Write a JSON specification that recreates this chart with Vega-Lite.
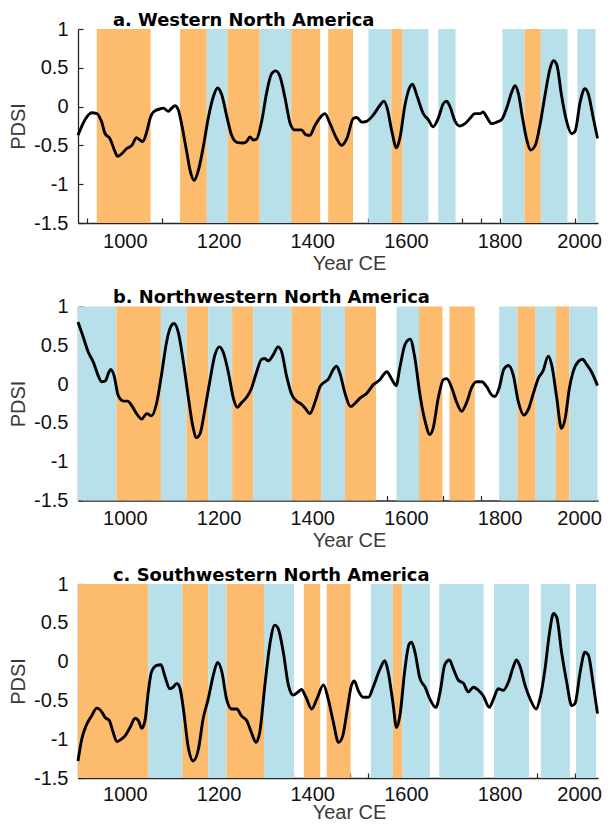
{
  "$schema": "https://vega.github.io/schema/vega-lite/v6.json",
  "background": "white",
  "padding": {"left": 8, "top": 11, "right": 5, "bottom": 0},
  "datasets": {
    "a_bands": [
      {"start": 940, "end": 1055, "regime": "dry"},
      {"start": 1118, "end": 1175, "regime": "dry"},
      {"start": 1175, "end": 1219, "regime": "wet"},
      {"start": 1219, "end": 1288, "regime": "dry"},
      {"start": 1288, "end": 1355, "regime": "wet"},
      {"start": 1355, "end": 1417, "regime": "dry"},
      {"start": 1434, "end": 1487, "regime": "dry"},
      {"start": 1520, "end": 1569, "regime": "wet"},
      {"start": 1569, "end": 1593, "regime": "dry"},
      {"start": 1593, "end": 1648, "regime": "wet"},
      {"start": 1669, "end": 1706, "regime": "wet"},
      {"start": 1806, "end": 1853, "regime": "wet"},
      {"start": 1853, "end": 1888, "regime": "dry"},
      {"start": 1888, "end": 1945, "regime": "wet"},
      {"start": 1966, "end": 2005, "regime": "wet"}
    ],
    "b_bands": [
      {"start": 900, "end": 982, "regime": "wet"},
      {"start": 982, "end": 1077, "regime": "dry"},
      {"start": 1077, "end": 1132, "regime": "wet"},
      {"start": 1132, "end": 1178, "regime": "dry"},
      {"start": 1178, "end": 1229, "regime": "wet"},
      {"start": 1229, "end": 1274, "regime": "dry"},
      {"start": 1274, "end": 1356, "regime": "wet"},
      {"start": 1356, "end": 1419, "regime": "dry"},
      {"start": 1419, "end": 1470, "regime": "wet"},
      {"start": 1470, "end": 1536, "regime": "dry"},
      {"start": 1580, "end": 1628, "regime": "wet"},
      {"start": 1628, "end": 1678, "regime": "dry"},
      {"start": 1693, "end": 1747, "regime": "dry"},
      {"start": 1799, "end": 1838, "regime": "wet"},
      {"start": 1838, "end": 1877, "regime": "dry"},
      {"start": 1877, "end": 1920, "regime": "wet"},
      {"start": 1920, "end": 1949, "regime": "dry"},
      {"start": 1949, "end": 2009, "regime": "wet"}
    ],
    "c_bands": [
      {"start": 900, "end": 1050, "regime": "dry"},
      {"start": 1050, "end": 1123, "regime": "wet"},
      {"start": 1123, "end": 1178, "regime": "dry"},
      {"start": 1178, "end": 1217, "regime": "wet"},
      {"start": 1217, "end": 1297, "regime": "dry"},
      {"start": 1297, "end": 1361, "regime": "wet"},
      {"start": 1382, "end": 1417, "regime": "dry"},
      {"start": 1431, "end": 1482, "regime": "dry"},
      {"start": 1525, "end": 1572, "regime": "wet"},
      {"start": 1572, "end": 1592, "regime": "dry"},
      {"start": 1592, "end": 1651, "regime": "wet"},
      {"start": 1671, "end": 1766, "regime": "wet"},
      {"start": 1788, "end": 1863, "regime": "wet"},
      {"start": 1888, "end": 1950, "regime": "wet"},
      {"start": 1963, "end": 2006, "regime": "wet"}
    ],
    "a_curve": [
      {"year": 900, "pdsi": -0.37}, {"year": 915, "pdsi": -0.17}, {"year": 929, "pdsi": -0.08}, {"year": 940, "pdsi": -0.09},
      {"year": 950, "pdsi": -0.19}, {"year": 958, "pdsi": -0.35}, {"year": 968, "pdsi": -0.41}, {"year": 979, "pdsi": -0.58},
      {"year": 984, "pdsi": -0.64}, {"year": 993, "pdsi": -0.61}, {"year": 1004, "pdsi": -0.54}, {"year": 1015, "pdsi": -0.5},
      {"year": 1025, "pdsi": -0.4}, {"year": 1032, "pdsi": -0.43}, {"year": 1038, "pdsi": -0.45}, {"year": 1047, "pdsi": -0.32},
      {"year": 1054, "pdsi": -0.15}, {"year": 1061, "pdsi": -0.07}, {"year": 1075, "pdsi": -0.03}, {"year": 1082, "pdsi": -0.02},
      {"year": 1093, "pdsi": -0.06}, {"year": 1100, "pdsi": -0.02}, {"year": 1107, "pdsi": 0.01}, {"year": 1114, "pdsi": -0.04},
      {"year": 1121, "pdsi": -0.22}, {"year": 1132, "pdsi": -0.58}, {"year": 1140, "pdsi": -0.84}, {"year": 1148, "pdsi": -0.95},
      {"year": 1157, "pdsi": -0.82}, {"year": 1168, "pdsi": -0.5}, {"year": 1178, "pdsi": -0.15}, {"year": 1189, "pdsi": 0.13},
      {"year": 1198, "pdsi": 0.24}, {"year": 1207, "pdsi": 0.15}, {"year": 1217, "pdsi": -0.11}, {"year": 1228, "pdsi": -0.37},
      {"year": 1239, "pdsi": -0.46}, {"year": 1253, "pdsi": -0.47}, {"year": 1260, "pdsi": -0.45}, {"year": 1267, "pdsi": -0.39},
      {"year": 1274, "pdsi": -0.43}, {"year": 1281, "pdsi": -0.42}, {"year": 1292, "pdsi": -0.19}, {"year": 1303, "pdsi": 0.19},
      {"year": 1313, "pdsi": 0.42}, {"year": 1322, "pdsi": 0.46}, {"year": 1331, "pdsi": 0.39}, {"year": 1342, "pdsi": 0.11},
      {"year": 1353, "pdsi": -0.22}, {"year": 1363, "pdsi": -0.3}, {"year": 1377, "pdsi": -0.3}, {"year": 1386, "pdsi": -0.36},
      {"year": 1395, "pdsi": -0.37}, {"year": 1406, "pdsi": -0.24}, {"year": 1417, "pdsi": -0.14}, {"year": 1427, "pdsi": -0.09},
      {"year": 1438, "pdsi": -0.22}, {"year": 1452, "pdsi": -0.41}, {"year": 1463, "pdsi": -0.5}, {"year": 1474, "pdsi": -0.41},
      {"year": 1488, "pdsi": -0.15}, {"year": 1495, "pdsi": -0.14}, {"year": 1506, "pdsi": -0.2}, {"year": 1516, "pdsi": -0.19},
      {"year": 1530, "pdsi": -0.11}, {"year": 1545, "pdsi": 0.02}, {"year": 1553, "pdsi": 0.07}, {"year": 1560, "pdsi": -0.02},
      {"year": 1570, "pdsi": -0.32}, {"year": 1580, "pdsi": -0.53}, {"year": 1587, "pdsi": -0.41}, {"year": 1598, "pdsi": 0.02},
      {"year": 1609, "pdsi": 0.26}, {"year": 1614, "pdsi": 0.29}, {"year": 1623, "pdsi": 0.15}, {"year": 1637, "pdsi": -0.09},
      {"year": 1648, "pdsi": -0.17}, {"year": 1658, "pdsi": -0.26}, {"year": 1669, "pdsi": -0.15}, {"year": 1680, "pdsi": 0.04},
      {"year": 1687, "pdsi": 0.07}, {"year": 1694, "pdsi": 0.0}, {"year": 1705, "pdsi": -0.19}, {"year": 1715, "pdsi": -0.25},
      {"year": 1726, "pdsi": -0.22}, {"year": 1737, "pdsi": -0.15}, {"year": 1747, "pdsi": -0.09}, {"year": 1758, "pdsi": -0.09},
      {"year": 1765, "pdsi": -0.07}, {"year": 1772, "pdsi": -0.13}, {"year": 1783, "pdsi": -0.22}, {"year": 1794, "pdsi": -0.2},
      {"year": 1804, "pdsi": -0.17}, {"year": 1815, "pdsi": -0.02}, {"year": 1826, "pdsi": 0.19}, {"year": 1833, "pdsi": 0.27},
      {"year": 1840, "pdsi": 0.17}, {"year": 1849, "pdsi": -0.15}, {"year": 1858, "pdsi": -0.43}, {"year": 1866, "pdsi": -0.56},
      {"year": 1876, "pdsi": -0.5}, {"year": 1886, "pdsi": -0.24}, {"year": 1897, "pdsi": 0.15}, {"year": 1908, "pdsi": 0.5},
      {"year": 1915, "pdsi": 0.59}, {"year": 1922, "pdsi": 0.54}, {"year": 1932, "pdsi": 0.15}, {"year": 1943, "pdsi": -0.19},
      {"year": 1954, "pdsi": -0.35}, {"year": 1961, "pdsi": -0.32}, {"year": 1972, "pdsi": 0.06}, {"year": 1982, "pdsi": 0.23},
      {"year": 1989, "pdsi": 0.17}, {"year": 2000, "pdsi": -0.15}, {"year": 2009, "pdsi": -0.41}
    ],
    "b_curve": [
      {"year": 900, "pdsi": 0.8}, {"year": 911, "pdsi": 0.61}, {"year": 922, "pdsi": 0.41}, {"year": 933, "pdsi": 0.28},
      {"year": 943, "pdsi": 0.11}, {"year": 950, "pdsi": 0.03}, {"year": 958, "pdsi": 0.04}, {"year": 965, "pdsi": 0.14},
      {"year": 970, "pdsi": 0.19}, {"year": 977, "pdsi": 0.11}, {"year": 986, "pdsi": -0.15}, {"year": 997, "pdsi": -0.22},
      {"year": 1006, "pdsi": -0.22}, {"year": 1015, "pdsi": -0.28}, {"year": 1025, "pdsi": -0.38}, {"year": 1036, "pdsi": -0.45},
      {"year": 1047, "pdsi": -0.38}, {"year": 1057, "pdsi": -0.41}, {"year": 1068, "pdsi": -0.24}, {"year": 1079, "pdsi": 0.15},
      {"year": 1089, "pdsi": 0.54}, {"year": 1098, "pdsi": 0.74}, {"year": 1105, "pdsi": 0.78}, {"year": 1114, "pdsi": 0.67},
      {"year": 1125, "pdsi": 0.28}, {"year": 1136, "pdsi": -0.19}, {"year": 1145, "pdsi": -0.54}, {"year": 1153, "pdsi": -0.69},
      {"year": 1161, "pdsi": -0.63}, {"year": 1171, "pdsi": -0.32}, {"year": 1182, "pdsi": 0.06}, {"year": 1192, "pdsi": 0.37},
      {"year": 1202, "pdsi": 0.48}, {"year": 1210, "pdsi": 0.41}, {"year": 1221, "pdsi": 0.15}, {"year": 1232, "pdsi": -0.19},
      {"year": 1240, "pdsi": -0.3}, {"year": 1249, "pdsi": -0.24}, {"year": 1260, "pdsi": -0.17}, {"year": 1270, "pdsi": -0.06},
      {"year": 1281, "pdsi": 0.15}, {"year": 1292, "pdsi": 0.32}, {"year": 1299, "pdsi": 0.33}, {"year": 1306, "pdsi": 0.3},
      {"year": 1317, "pdsi": 0.38}, {"year": 1327, "pdsi": 0.48}, {"year": 1334, "pdsi": 0.43}, {"year": 1345, "pdsi": 0.11},
      {"year": 1356, "pdsi": -0.13}, {"year": 1367, "pdsi": -0.22}, {"year": 1377, "pdsi": -0.26}, {"year": 1385, "pdsi": -0.31},
      {"year": 1395, "pdsi": -0.38}, {"year": 1406, "pdsi": -0.23}, {"year": 1417, "pdsi": -0.03}, {"year": 1427, "pdsi": 0.03},
      {"year": 1434, "pdsi": 0.06}, {"year": 1445, "pdsi": 0.19}, {"year": 1452, "pdsi": 0.23}, {"year": 1459, "pdsi": 0.14},
      {"year": 1470, "pdsi": -0.12}, {"year": 1482, "pdsi": -0.29}, {"year": 1491, "pdsi": -0.25}, {"year": 1502, "pdsi": -0.18},
      {"year": 1516, "pdsi": -0.12}, {"year": 1530, "pdsi": -0.01}, {"year": 1545, "pdsi": 0.06}, {"year": 1552, "pdsi": 0.12},
      {"year": 1559, "pdsi": 0.16}, {"year": 1570, "pdsi": 0.06}, {"year": 1579, "pdsi": -0.02}, {"year": 1587, "pdsi": 0.21},
      {"year": 1598, "pdsi": 0.51}, {"year": 1609, "pdsi": 0.58}, {"year": 1619, "pdsi": 0.34}, {"year": 1630, "pdsi": -0.14},
      {"year": 1641, "pdsi": -0.48}, {"year": 1651, "pdsi": -0.65}, {"year": 1658, "pdsi": -0.57}, {"year": 1669, "pdsi": -0.18},
      {"year": 1680, "pdsi": 0.06}, {"year": 1687, "pdsi": 0.07}, {"year": 1698, "pdsi": -0.05}, {"year": 1708, "pdsi": -0.23},
      {"year": 1719, "pdsi": -0.35}, {"year": 1730, "pdsi": -0.23}, {"year": 1740, "pdsi": -0.05}, {"year": 1751, "pdsi": 0.03},
      {"year": 1762, "pdsi": 0.03}, {"year": 1772, "pdsi": -0.03}, {"year": 1783, "pdsi": -0.14}, {"year": 1790, "pdsi": -0.16},
      {"year": 1799, "pdsi": -0.05}, {"year": 1809, "pdsi": 0.19}, {"year": 1819, "pdsi": 0.24}, {"year": 1829, "pdsi": 0.12},
      {"year": 1840, "pdsi": -0.23}, {"year": 1852, "pdsi": -0.4}, {"year": 1861, "pdsi": -0.33}, {"year": 1872, "pdsi": -0.12},
      {"year": 1883, "pdsi": 0.08}, {"year": 1892, "pdsi": 0.16}, {"year": 1904, "pdsi": 0.36}, {"year": 1911, "pdsi": 0.25},
      {"year": 1922, "pdsi": -0.18}, {"year": 1932, "pdsi": -0.57}, {"year": 1940, "pdsi": -0.44}, {"year": 1949, "pdsi": -0.05},
      {"year": 1957, "pdsi": 0.16}, {"year": 1968, "pdsi": 0.29}, {"year": 1977, "pdsi": 0.32}, {"year": 1986, "pdsi": 0.25},
      {"year": 1996, "pdsi": 0.16}, {"year": 2009, "pdsi": -0.02}
    ],
    "c_curve": [
      {"year": 900, "pdsi": -1.28}, {"year": 908, "pdsi": -1.0}, {"year": 917, "pdsi": -0.83}, {"year": 929, "pdsi": -0.7},
      {"year": 940, "pdsi": -0.6}, {"year": 951, "pdsi": -0.65}, {"year": 958, "pdsi": -0.72}, {"year": 967, "pdsi": -0.76},
      {"year": 975, "pdsi": -0.91}, {"year": 983, "pdsi": -1.03}, {"year": 990, "pdsi": -1.01}, {"year": 1000, "pdsi": -0.96},
      {"year": 1011, "pdsi": -0.85}, {"year": 1022, "pdsi": -0.73}, {"year": 1029, "pdsi": -0.76}, {"year": 1036, "pdsi": -0.86},
      {"year": 1043, "pdsi": -0.76}, {"year": 1050, "pdsi": -0.39}, {"year": 1057, "pdsi": -0.13}, {"year": 1068, "pdsi": -0.05},
      {"year": 1077, "pdsi": -0.04}, {"year": 1086, "pdsi": -0.2}, {"year": 1096, "pdsi": -0.35}, {"year": 1103, "pdsi": -0.33},
      {"year": 1111, "pdsi": -0.28}, {"year": 1118, "pdsi": -0.35}, {"year": 1125, "pdsi": -0.61}, {"year": 1135, "pdsi": -1.09},
      {"year": 1146, "pdsi": -1.28}, {"year": 1157, "pdsi": -1.13}, {"year": 1167, "pdsi": -0.74}, {"year": 1178, "pdsi": -0.48},
      {"year": 1189, "pdsi": -0.17}, {"year": 1198, "pdsi": -0.01}, {"year": 1207, "pdsi": -0.13}, {"year": 1217, "pdsi": -0.48},
      {"year": 1228, "pdsi": -0.61}, {"year": 1239, "pdsi": -0.61}, {"year": 1249, "pdsi": -0.7}, {"year": 1260, "pdsi": -0.76},
      {"year": 1270, "pdsi": -0.91}, {"year": 1280, "pdsi": -1.04}, {"year": 1288, "pdsi": -0.91}, {"year": 1299, "pdsi": -0.3},
      {"year": 1310, "pdsi": 0.24}, {"year": 1320, "pdsi": 0.47}, {"year": 1327, "pdsi": 0.43}, {"year": 1338, "pdsi": 0.13},
      {"year": 1349, "pdsi": -0.3}, {"year": 1359, "pdsi": -0.43}, {"year": 1370, "pdsi": -0.39}, {"year": 1377, "pdsi": -0.36},
      {"year": 1386, "pdsi": -0.45}, {"year": 1399, "pdsi": -0.61}, {"year": 1410, "pdsi": -0.48}, {"year": 1424, "pdsi": -0.3},
      {"year": 1434, "pdsi": -0.48}, {"year": 1445, "pdsi": -0.78}, {"year": 1456, "pdsi": -1.04}, {"year": 1465, "pdsi": -0.96},
      {"year": 1474, "pdsi": -0.65}, {"year": 1484, "pdsi": -0.3}, {"year": 1490, "pdsi": -0.25}, {"year": 1498, "pdsi": -0.37},
      {"year": 1509, "pdsi": -0.46}, {"year": 1520, "pdsi": -0.46}, {"year": 1530, "pdsi": -0.33}, {"year": 1545, "pdsi": -0.09},
      {"year": 1555, "pdsi": 0.01}, {"year": 1562, "pdsi": -0.13}, {"year": 1572, "pdsi": -0.52}, {"year": 1580, "pdsi": -0.85},
      {"year": 1587, "pdsi": -0.7}, {"year": 1598, "pdsi": -0.09}, {"year": 1607, "pdsi": 0.23}, {"year": 1612, "pdsi": 0.25},
      {"year": 1619, "pdsi": 0.13}, {"year": 1630, "pdsi": -0.22}, {"year": 1641, "pdsi": -0.33}, {"year": 1651, "pdsi": -0.48},
      {"year": 1664, "pdsi": -0.59}, {"year": 1673, "pdsi": -0.39}, {"year": 1683, "pdsi": -0.04}, {"year": 1693, "pdsi": 0.02},
      {"year": 1701, "pdsi": -0.09}, {"year": 1712, "pdsi": -0.24}, {"year": 1723, "pdsi": -0.28}, {"year": 1733, "pdsi": -0.39},
      {"year": 1744, "pdsi": -0.33}, {"year": 1755, "pdsi": -0.37}, {"year": 1765, "pdsi": -0.44}, {"year": 1778, "pdsi": -0.59},
      {"year": 1787, "pdsi": -0.48}, {"year": 1797, "pdsi": -0.35}, {"year": 1808, "pdsi": -0.37}, {"year": 1819, "pdsi": -0.26},
      {"year": 1829, "pdsi": -0.07}, {"year": 1836, "pdsi": 0.02}, {"year": 1844, "pdsi": -0.07}, {"year": 1854, "pdsi": -0.3},
      {"year": 1865, "pdsi": -0.48}, {"year": 1878, "pdsi": -0.61}, {"year": 1886, "pdsi": -0.48}, {"year": 1897, "pdsi": -0.09},
      {"year": 1906, "pdsi": 0.35}, {"year": 1915, "pdsi": 0.62}, {"year": 1922, "pdsi": 0.57}, {"year": 1932, "pdsi": 0.13},
      {"year": 1943, "pdsi": -0.26}, {"year": 1954, "pdsi": -0.57}, {"year": 1961, "pdsi": -0.54}, {"year": 1972, "pdsi": -0.13},
      {"year": 1982, "pdsi": 0.12}, {"year": 1989, "pdsi": 0.09}, {"year": 2000, "pdsi": -0.3}, {"year": 2009, "pdsi": -0.67}
    ]
  },
  "vconcat": [
    {
      "width": 520, "height": 194,
      "title": {"text": "a. Western North America", "anchor": "start", "frame": "group", "dx": 35, "offset": -10.5, "font": "DejaVu Sans", "fontSize": 17.9, "fontWeight": "bold", "color": "#000000"},
      "layer": [
        {"data": {"name": "a_bands"}, "mark": {"type": "rect"},
         "encoding": {
           "x": {"field": "start", "type": "quantitative", "scale": {"domain": [900, 2010], "nice": false, "zero": false},
                 "axis": {"title": "Year CE", "tickCount": 100, "labelOverlap": false, "values": [920,960,1000,1040,1080,1120,1160,1200,1240,1280,1320,1360,1400,1440,1480,1520,1560,1600,1640,1680,1720,1760,1800,1840,1880,1920,1960,2000], "labelExpr": "datum.value % 200 == 0 ? toString(datum.value) : ''"}},
           "x2": {"field": "end"},
           "color": {"field": "regime", "type": "nominal", "scale": {"domain": ["dry", "wet"], "range": ["#FDBB6E", "#B7E0EB"]}, "legend": null}}},
        {"mark": {"type": "rule", "strokeDash": [26.7, 16], "color": "#3a3a3a", "strokeWidth": 1.3},
         "encoding": {"y": {"datum": -0.18, "type": "quantitative", "scale": {"domain": [-1.5, 1], "nice": false, "zero": false},
                 "axis": {"title": "PDSI", "tickCount": 100, "labelOverlap": false, "values": [-1.5, -1, -0.5, 0, 0.5, 1], "labelExpr": "toString(datum.value)"}}}},
        {"data": {"name": "a_curve"}, "mark": {"type": "line", "color": "#000000", "strokeWidth": 2.9, "interpolate": "monotone"},
         "encoding": {
           "x": {"field": "year", "type": "quantitative"},
           "y": {"field": "pdsi", "type": "quantitative"}}}
      ]
    },
    {
      "width": 520, "height": 194,
      "title": {"text": "b. Northwestern North America", "anchor": "start", "frame": "group", "dx": 35, "offset": -10.5, "font": "DejaVu Sans", "fontSize": 17.9, "fontWeight": "bold", "color": "#000000"},
      "layer": [
        {"data": {"name": "b_bands"}, "mark": {"type": "rect"},
         "encoding": {
           "x": {"field": "start", "type": "quantitative", "scale": {"domain": [900, 2010], "nice": false, "zero": false},
                 "axis": {"title": "Year CE", "tickCount": 100, "labelOverlap": false, "values": [920,960,1000,1040,1080,1120,1160,1200,1240,1280,1320,1360,1400,1440,1480,1520,1560,1600,1640,1680,1720,1760,1800,1840,1880,1920,1960,2000], "labelExpr": "datum.value % 200 == 0 ? toString(datum.value) : ''"}},
           "x2": {"field": "end"},
           "color": {"field": "regime", "type": "nominal", "scale": {"domain": ["dry", "wet"], "range": ["#FDBB6E", "#B7E0EB"]}, "legend": null}}},
        {"mark": {"type": "rule", "strokeDash": [26.7, 16], "color": "#111111", "strokeWidth": 1.2},
         "encoding": {"y": {"datum": 0, "type": "quantitative", "scale": {"domain": [-1.5, 1], "nice": false, "zero": false},
                 "axis": {"title": "PDSI", "tickCount": 100, "labelOverlap": false, "values": [-1.5, -1, -0.5, 0, 0.5, 1], "labelExpr": "toString(datum.value)"}}}},
        {"data": {"name": "b_curve"}, "mark": {"type": "line", "color": "#000000", "strokeWidth": 2.9, "interpolate": "monotone"},
         "encoding": {
           "x": {"field": "year", "type": "quantitative"},
           "y": {"field": "pdsi", "type": "quantitative"}}}
      ]
    },
    {
      "width": 520, "height": 194,
      "title": {"text": "c. Southwestern North America", "anchor": "start", "frame": "group", "dx": 35, "offset": -10.5, "font": "DejaVu Sans", "fontSize": 17.9, "fontWeight": "bold", "color": "#000000"},
      "layer": [
        {"data": {"name": "c_bands"}, "mark": {"type": "rect"},
         "encoding": {
           "x": {"field": "start", "type": "quantitative", "scale": {"domain": [900, 2010], "nice": false, "zero": false},
                 "axis": {"title": "Year CE", "titlePadding": -2, "labelPadding": 11, "tickCount": 100, "labelOverlap": false, "values": [920,960,1000,1040,1080,1120,1160,1200,1240,1280,1320,1360,1400,1440,1480,1520,1560,1600,1640,1680,1720,1760,1800,1840,1880,1920,1960,2000], "labelExpr": "datum.value % 200 == 0 ? toString(datum.value) : ''"}},
           "x2": {"field": "end"},
           "color": {"field": "regime", "type": "nominal", "scale": {"domain": ["dry", "wet"], "range": ["#FDBB6E", "#B7E0EB"]}, "legend": null}}},
        {"mark": {"type": "rule", "strokeDash": [26.7, 16], "color": "#111111", "strokeWidth": 1.2},
         "encoding": {"y": {"datum": -0.43, "type": "quantitative", "scale": {"domain": [-1.5, 1], "nice": false, "zero": false},
                 "axis": {"title": "PDSI", "tickCount": 100, "labelOverlap": false, "values": [-1.5, -1, -0.5, 0, 0.5, 1], "labelExpr": "toString(datum.value)"}}}},
        {"data": {"name": "c_curve"}, "mark": {"type": "line", "color": "#000000", "strokeWidth": 2.9, "interpolate": "monotone"},
         "encoding": {
           "x": {"field": "year", "type": "quantitative"},
           "y": {"field": "pdsi", "type": "quantitative"}}}
      ]
    }
  ],
  "config": {
    "view": {"stroke": null},
    "font": "Liberation Sans",
    "concat": {"spacing": 15.5},
    "axis": {
      "grid": false, "domainColor": "#262626", "domainWidth": 1.3, "tickColor": "#262626", "tickWidth": 1.2, "tickSize": -5,
      "labelFont": "Liberation Sans", "labelFontSize": 20, "labelColor": "#111111", "labelPadding": 13, "labelOverlap": false, "labelBound": false,
      "titleFont": "Liberation Sans", "titleFontSize": 20, "titleFontWeight": "normal", "titleColor": "#3a3a3a"
    },
    "axisX": {"titlePadding": 2, "titleX": 271, "labelFlush": 10, "labelFlushOffset": 8},
    "axisY": {"titlePadding": 5, "labelPadding": 15}
  }
}
